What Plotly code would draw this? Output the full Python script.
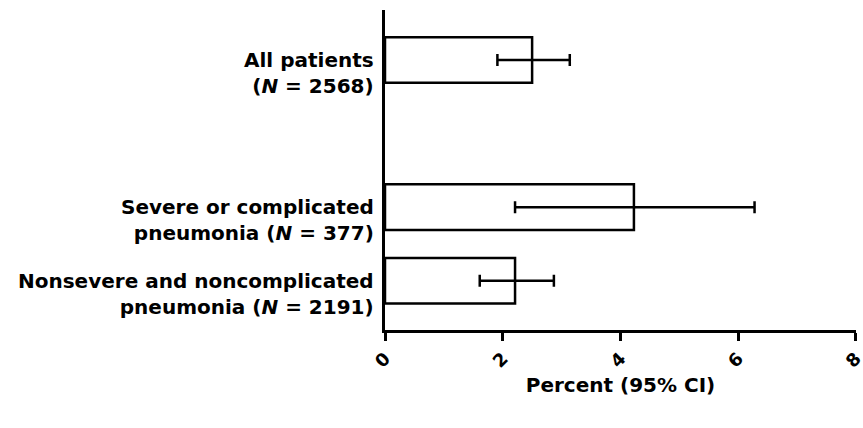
import plotly.graph_objects as go

groups = ["All patients<br>(<i>N</i> = 2568)",
          "Severe or complicated<br>pneumonia (<i>N</i> = 377)",
          "Nonsevere and noncomplicated<br>pneumonia (<i>N</i> = 2191)"]
positions = [3, 1, 0]
percent = [2.50, 4.23, 2.21]
ci_low = [1.91, 2.21, 1.61]
ci_high = [3.14, 6.28, 2.87]
x_ticks = [0, 2, 4, 6, 8]

FONT = "DejaVu Sans"

fig = go.Figure()
fig.add_trace(go.Bar(
    x=percent, y=positions, orientation="h", width=0.62,
    marker=dict(color="white", line=dict(color="black", width=2.5)),
    error_x=dict(type="data", symmetric=False,
                 array=[h - p for h, p in zip(ci_high, percent)],
                 arrayminus=[p - l for l, p in zip(ci_low, percent)],
                 color="black", thickness=2.5, width=6),
    showlegend=False, hoverinfo="skip",
))

for g, pos in zip(groups, positions):
    fig.add_annotation(text=g, xref="paper", x=0, yref="y", y=pos,
                       xanchor="right", yanchor="top", align="right",
                       xshift=-9, yshift=14, showarrow=False,
                       font=dict(family=FONT, size=20, color="black", weight="bold"))

fig.update_layout(
    width=863, height=428,
    margin=dict(l=385, r=7, t=10, b=98, autoexpand=False),
    paper_bgcolor="white", plot_bgcolor="white",
    xaxis=dict(range=[0, 8.004], tickvals=x_ticks, ticktext=[str(t) for t in x_ticks],
               tickangle=-45, showline=True, linecolor="black", linewidth=3,
               ticks="outside", ticklen=8, tickwidth=3, tickcolor="black",
               showgrid=False, zeroline=False, automargin=False,
               ticklabeloverflow="allow",
               tickfont=dict(family=FONT, size=18, color="black", weight="bold"),
               title=dict(text="Percent (95% CI)", standoff=8,
                          font=dict(family=FONT, size=20, color="black", weight="bold"))),
    yaxis=dict(range=[-0.67, 3.68], showline=True, linecolor="black", linewidth=3,
               showticklabels=False, ticks="", showgrid=False, zeroline=False,
               automargin=False),
)

fig.write_html("out.html", config={"displayModeBar": False},
               post_script="document.body.style.margin='0px';document.body.style.overflow='hidden';")
